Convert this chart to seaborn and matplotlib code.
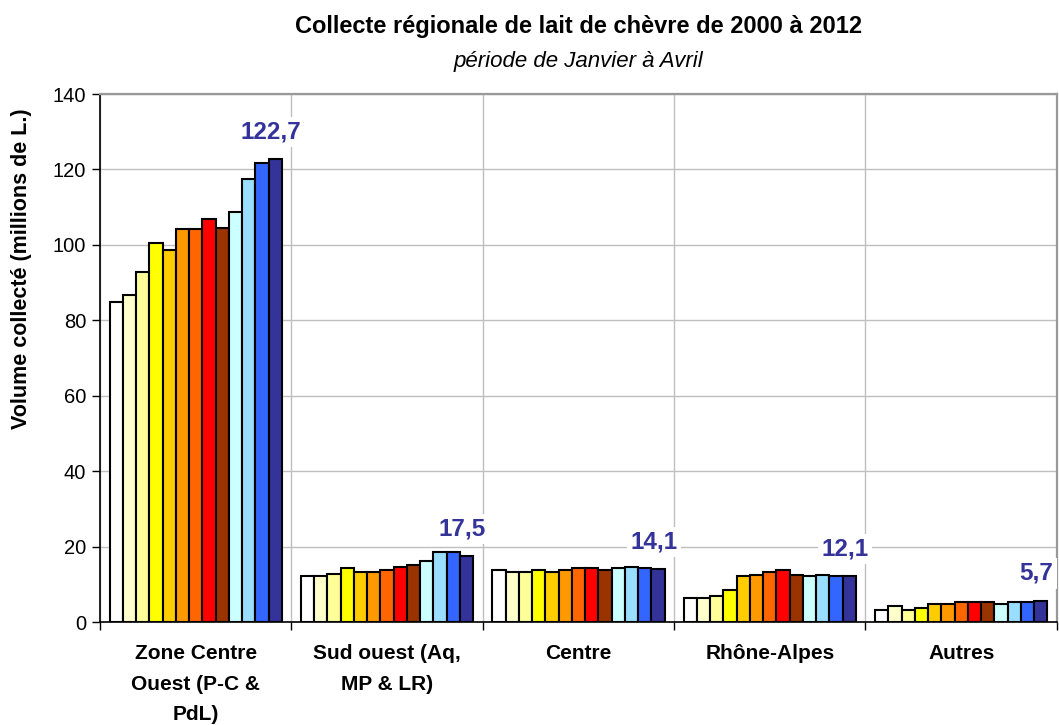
import numpy as np
import pandas as pd
import matplotlib
matplotlib.use("Agg")
import matplotlib.pyplot as plt
import seaborn as sns
from matplotlib.ticker import MultipleLocator, FixedLocator

# regions and years
regions = ["Zone Centre\nOuest (P-C &\nPdL)", "Sud ouest (Aq,\nMP & LR)",
           "Centre", "Rhône-Alpes", "Autres"]
years = [str(y) for y in range(2000, 2013)]

# volumes collected (millions of L.), January to April, 2000 -> 2012
zone_centre_ouest = [84.8, 86.6, 92.8, 100.4, 98.6, 104.1, 104.1, 106.8, 104.5, 108.8, 117.4, 121.6, 122.7]
sud_ouest = [12.1, 12.1, 12.7, 14.2, 13.2, 13.2, 13.7, 14.7, 15.2, 16.3, 18.6, 18.5, 17.5]
centre = [13.7, 13.3, 13.3, 13.7, 13.2, 13.7, 14.3, 14.2, 13.7, 14.3, 14.6, 14.4, 14.1]
rhone_alpes = [6.3, 6.3, 6.8, 8.5, 12.1, 12.6, 13.2, 13.7, 12.6, 12.1, 12.4, 12.2, 12.1]
autres = [3.2, 4.2, 3.2, 3.7, 4.7, 4.7, 5.3, 5.3, 5.3, 4.7, 5.2, 5.2, 5.7]

year_colors = ["#FFFFFF", "#FFFFCC", "#FFFF99", "#FFFF00", "#FFCC00", "#FF9900",
               "#FF6600", "#FF0000", "#993300", "#CCFFFF", "#99DDFF", "#3366FF", "#333399"]

series = [zone_centre_ouest, sud_ouest, centre, rhone_alpes, autres]
rows = []
for reg, vals in zip(regions, series):
    for yr, v in zip(years, vals):
        rows.append({"region": reg, "year": yr, "value": v})
df = pd.DataFrame(rows)

sns.set_style("white")
plt.rcParams["font.family"] = ["Liberation Sans", "DejaVu Sans"]
plt.rcParams["text.color"] = "black"
plt.rcParams["axes.labelcolor"] = "black"
plt.rcParams["xtick.color"] = "black"
plt.rcParams["ytick.color"] = "black"

fig = plt.figure(figsize=(10.59, 7.25), dpi=100)
ax = fig.add_axes([0.0944, 0.142, 0.9036, 0.7283])

sns.barplot(data=df, x="region", y="value", hue="year", order=regions,
            hue_order=years, palette=year_colors, saturation=1, width=0.9, gap=0,
            edgecolor="black", linewidth=1.5, ax=ax, legend=False, zorder=3)

ax.set_ylim(0, 140)
ax.set_xlim(-0.5, len(regions) - 0.5)
ax.yaxis.set_major_locator(MultipleLocator(20))
ax.xaxis.set_minor_locator(FixedLocator(np.arange(-0.5, len(regions), 1.0)))

ax.grid(axis="y", which="major", color="#BFBFBF", linewidth=1, zorder=0)
ax.grid(axis="x", which="minor", color="#BFBFBF", linewidth=1, zorder=0)
ax.set_axisbelow(True)

for side in ["left", "bottom"]:
    ax.spines[side].set_color("black")
    ax.spines[side].set_linewidth(1.2)
for side in ["top", "right"]:
    ax.spines[side].set_color("#999999")
    ax.spines[side].set_linewidth(1.6)

ax.tick_params(axis="y", which="major", direction="out", length=6, width=1,
               labelsize=14.5, left=True, pad=4)
ax.tick_params(axis="x", which="major", length=0, labelsize=15, pad=16)
ax.tick_params(axis="x", which="minor", direction="out", length=6, width=1,
               bottom=True)
for lab in ax.get_xticklabels():
    lab.set_fontweight("bold")
    lab.set_linespacing(1.75)

ax.set_xlabel("")
ax.set_ylabel("Volume collecté (millions de L.)", fontsize=15.5,
              fontweight="bold")
ax.yaxis.set_label_coords(-0.071, 0.67)

# label the 2012 bar of each region
last_bars = ax.containers[-1]
for bar, vals in zip(last_bars, series):
    txt = f"{vals[-1]:.1f}".replace(".", ",")
    ax.annotate(txt, (bar.get_x() + bar.get_width() / 2, bar.get_height()),
                xytext=(-3, 19.5), textcoords="offset points",
                ha="center", va="center", fontsize=17.5, fontweight="bold",
                color="#333399", zorder=5,
                bbox=dict(boxstyle="square,pad=0.15", fc="white", ec="none"))

fig.text(0.546, 0.963, "Collecte régionale de lait de chèvre de 2000 à 2012",
         ha="center", va="center", fontsize=17, fontweight="bold")
fig.text(0.546, 0.915, "période de Janvier à Avril",
         ha="center", va="center", fontsize=16, style="italic")

fig.savefig("out.png", dpi=100)
